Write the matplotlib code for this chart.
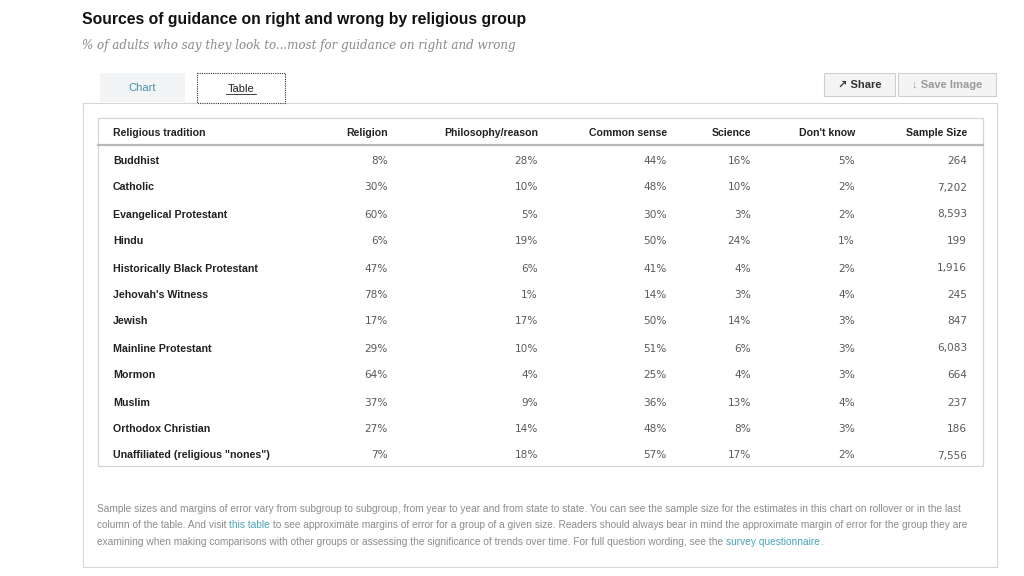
import matplotlib.pyplot as plt
from matplotlib.patches import Rectangle

# data
groups = ["Buddhist", "Catholic", "Evangelical Protestant", "Hindu",
          "Historically Black Protestant", "Jehovah's Witness", "Jewish",
          "Mainline Protestant", "Mormon", "Muslim", "Orthodox Christian",
          'Unaffiliated (religious "nones")']
religion = [8, 30, 60, 6, 47, 78, 17, 29, 64, 37, 27, 7]
philosophy = [28, 10, 5, 19, 6, 1, 17, 10, 4, 9, 14, 18]
common_sense = [44, 48, 30, 50, 41, 14, 50, 51, 25, 36, 48, 57]
science = [16, 10, 3, 24, 4, 3, 14, 6, 4, 13, 8, 17]
dont_know = [5, 2, 2, 1, 2, 4, 3, 3, 3, 4, 3, 2]
sample_size = [264, 7202, 8593, 199, 1916, 245, 847, 6083, 664, 237, 186, 7556]
headers = ["Religious tradition", "Religion", "Philosophy/reason",
           "Common sense", "Science", "Don't know", "Sample Size"]

title = "Sources of guidance on right and wrong by religious group"
subtitle = "% of adults who say they look to...most for guidance on right and wrong"
note_lines = [
    "Sample sizes and margins of error vary from subgroup to subgroup, from year to year and from state to state. "
    "You can see the sample size for the estimates in this chart on rollover or in the last",
    "column of the table. And visit |this table| to see approximate margins of error for a group of a given size. "
    "Readers should always bear in mind the approximate margin of error for the group they are",
    "examining when making comparisons with other groups or assessing the significance of trends over time. "
    "For full question wording, see the |survey questionnaire|.",
]

plt.rcParams['font.family'] = ['Liberation Sans', 'DejaVu Sans']

fig = plt.figure(figsize=(10.24, 5.76), dpi=100)
ax = fig.add_axes([0, 0, 1, 1])
ax.set_xlim(0, 1024)
ax.set_ylim(576, 0)
ax.axis('off')

dark = '#222222'
grey_line = '#d6d6d6'

# title block
ax.text(82, 24, title, fontsize=11.3, fontweight='bold', color='#111111', va='baseline')
ax.text(82, 49, subtitle, fontsize=8.6, style='italic', family='DejaVu Serif',
        color='#8a8a8a', va='baseline')

# tabs
ax.add_patch(Rectangle((100, 73), 85, 29, facecolor='#f2f4f5', edgecolor='none'))
ax.text(142, 91, "Chart", fontsize=8, color='#4a8fa8', ha='center', va='baseline')
ax.add_patch(Rectangle((197, 73), 88, 30, facecolor='white', edgecolor='#333333',
                       linestyle=(0, (1, 1)), linewidth=0.8, zorder=3))
ax.text(241, 92, "Table", fontsize=8, color=dark, ha='center', va='baseline', zorder=4)
ax.plot([226, 256], [94, 94], color=dark, lw=0.6, zorder=4)

# buttons
for x0, w, label, col in [(824, 71, "\u2197 Share", '#333333'),
                          (898, 98, "\u2193 Save Image", '#999999')]:
    ax.add_patch(Rectangle((x0, 73), w, 23, facecolor='#f4f4f4',
                           edgecolor='#cfcfcf', linewidth=0.8))
    ax.text(x0 + w / 2, 88, label, fontsize=8, fontweight='bold', color=col,
            ha='center', va='baseline')

# outer panel
ax.plot([83, 197], [103, 103], color=grey_line, lw=0.8)
ax.plot([285, 997], [103, 103], color=grey_line, lw=0.8)
ax.plot([83, 83, 997, 997], [103, 567, 567, 103], color=grey_line, lw=0.8)

# table box
ax.add_patch(Rectangle((98, 118), 885, 348, facecolor='white', edgecolor=grey_line,
                       linewidth=0.9))
ax.plot([98, 983], [145, 145], color='#b8b8b8', lw=1.6)

col_x = [113, 388, 538, 667, 751, 855, 967]
for i, h in enumerate(headers):
    ax.text(col_x[i], 136, h, fontsize=7.6, fontweight='bold', color=dark,
            ha='left' if i == 0 else 'right', va='baseline')

row_y0, row_h = 163.5, 26.8
for r, g in enumerate(groups):
    y = round(row_y0 + r * row_h) + 0.5
    vals = [f"{religion[r]}%", f"{philosophy[r]}%", f"{common_sense[r]}%",
            f"{science[r]}%", f"{dont_know[r]}%", f"{sample_size[r]:,}"]
    ax.text(col_x[0], y, g, fontsize=7.7, fontweight='bold', color=dark, va='baseline')
    for c, v in enumerate(vals):
        ax.text(col_x[c + 1], y, v, fontsize=7.6, family='DejaVu Sans',
                color='#5a5a5a', ha='right', va='baseline')

# footnote with link segments
renderer = fig.canvas.get_renderer()
for k, line in enumerate(note_lines):
    y = 512 + k * 16.5
    x = 97
    parts = line.split('|')
    for p, seg in enumerate(parts):
        if not seg:
            continue
        t = ax.text(x, y, seg, fontsize=7.3, color='#4aa3b8' if p % 2 else '#8c8c8c',
                    va='baseline')
        bb = t.get_window_extent(renderer=renderer)
        x += bb.width * 1024 / fig.bbox.width

fig.savefig('out.png', dpi=100, facecolor='white')
